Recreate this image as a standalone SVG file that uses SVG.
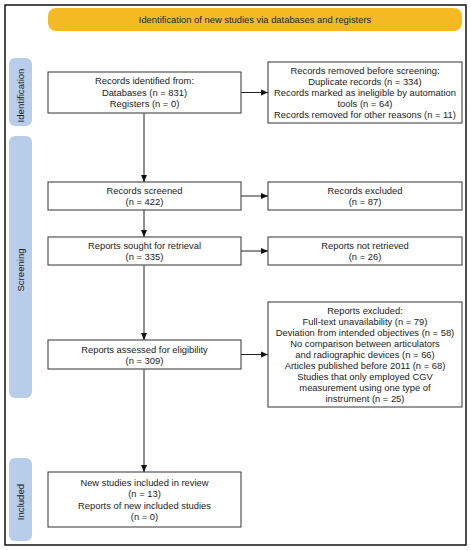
<svg xmlns="http://www.w3.org/2000/svg" width="471" height="550" viewBox="0 0 471 550">
<style>
.box{fill:#fff;stroke:#333;stroke-width:1}
.side{fill:#b7cdea}
.t{font-family:"Liberation Sans",Arial,sans-serif;font-size:9.4px;fill:#222;text-anchor:middle}
.st{font-family:"Liberation Sans",Arial,sans-serif;font-size:9.6px;fill:#222;text-anchor:middle}
.ln{stroke:#222;stroke-width:1;fill:none}
</style>
<defs>
<marker id="ah" markerWidth="8" markerHeight="8" refX="7" refY="4" orient="auto" markerUnits="userSpaceOnUse">
<path d="M0,1 L7,4 L0,7 Z" fill="#111"/>
</marker>
</defs>
<rect x="0" y="0" width="471" height="550" fill="#fff"/>
<rect x="5" y="5" width="461" height="540" fill="#fff" stroke="#111" stroke-width="1.5"/>
<g id="banner">
<rect x="48" y="8" width="414" height="23" rx="8" fill="#f5b923"/>
<text class="t" x="255" y="23">Identification of new studies via databases and registers</text>
</g>
<g id="side-identification">
<rect class="side" x="9" y="58" width="23" height="68" rx="6"/>
<text class="st" transform="translate(24,95.5) rotate(-90)">Identification</text>
</g>
<g id="side-screening">
<rect class="side" x="9" y="136" width="23" height="262" rx="6"/>
<text class="st" transform="translate(24,270) rotate(-90)">Screening</text>
</g>
<g id="side-included">
<rect class="side" x="9" y="458" width="23" height="83" rx="6"/>
<text class="st" transform="translate(24,502) rotate(-90)">Included</text>
</g>
<g id="connectors">
<line class="ln" x1="144" y1="113" x2="144" y2="182" marker-end="url(#ah)"/>
<line class="ln" x1="144" y1="210" x2="144" y2="237" marker-end="url(#ah)"/>
<line class="ln" x1="144" y1="265" x2="144" y2="340" marker-end="url(#ah)"/>
<line class="ln" x1="144" y1="369" x2="144" y2="472" marker-end="url(#ah)"/>
<line class="ln" x1="241" y1="92.5" x2="268" y2="92.5" marker-end="url(#ah)"/>
<line class="ln" x1="241" y1="196" x2="268" y2="196" marker-end="url(#ah)"/>
<line class="ln" x1="241" y1="251" x2="268" y2="251" marker-end="url(#ah)"/>
<line class="ln" x1="241" y1="354.5" x2="268" y2="354.5" marker-end="url(#ah)"/>
</g>
<g id="records-identified">
<rect class="box" x="48" y="72" width="193" height="41"/>
<text class="t" x="144.5" y="84">Records identified from:</text>
<text class="t" x="144.5" y="95.5">Databases (n = 831)</text>
<text class="t" x="144.5" y="107">Registers (n = 0)</text>
</g>
<g id="records-removed">
<rect class="box" x="268" y="62" width="194" height="61"/>
<text class="t" x="365" y="74">Records removed before screening:</text>
<text class="t" x="365" y="85">Duplicate records (n = 334)</text>
<text class="t" x="365" y="96">Records marked as ineligible by automation</text>
<text class="t" x="365" y="107">tools (n = 64)</text>
<text class="t" x="365" y="118">Records removed for other reasons (n = 11)</text>
</g>
<g id="records-screened">
<rect class="box" x="48" y="182" width="193" height="28"/>
<text class="t" x="144.5" y="194">Records screened</text>
<text class="t" x="144.5" y="205">(n = 422)</text>
</g>
<g id="records-excluded">
<rect class="box" x="268" y="182" width="194" height="28"/>
<text class="t" x="365" y="194">Records excluded</text>
<text class="t" x="365" y="205">(n = 87)</text>
</g>
<g id="reports-sought">
<rect class="box" x="48" y="237" width="193" height="28"/>
<text class="t" x="144.5" y="249">Reports sought for retrieval</text>
<text class="t" x="144.5" y="260">(n = 335)</text>
</g>
<g id="reports-not-retrieved">
<rect class="box" x="268" y="237" width="194" height="28"/>
<text class="t" x="365" y="249">Reports not retrieved</text>
<text class="t" x="365" y="260">(n = 26)</text>
</g>
<g id="reports-assessed">
<rect class="box" x="48" y="340" width="193" height="29"/>
<text class="t" x="144.5" y="352.5">Reports assessed for eligibility</text>
<text class="t" x="144.5" y="364">(n = 309)</text>
</g>
<g id="reports-excluded">
<rect class="box" x="268" y="302" width="194" height="105"/>
<text class="t" x="365" y="314">Reports excluded:</text>
<text class="t" x="365" y="325">Full-text unavailability (n = 79)</text>
<text class="t" x="365" y="336">Deviation from intended objectives (n = 58)</text>
<text class="t" x="365" y="347">No comparison between articulators</text>
<text class="t" x="365" y="358">and radiographic devices (n = 66)</text>
<text class="t" x="365" y="369">Articles published before 2011 (n = 68)</text>
<text class="t" x="365" y="380">Studies that only employed CGV</text>
<text class="t" x="365" y="391">measurement using one type of</text>
<text class="t" x="365" y="402">instrument (n = 25)</text>
</g>
<g id="new-studies">
<rect class="box" x="48" y="472" width="193" height="55"/>
<text class="t" x="144.5" y="486">New studies included in review</text>
<text class="t" x="144.5" y="497">(n = 13)</text>
<text class="t" x="144.5" y="508.5">Reports of new included studies</text>
<text class="t" x="144.5" y="519.5">(n = 0)</text>
</g>
</svg>
